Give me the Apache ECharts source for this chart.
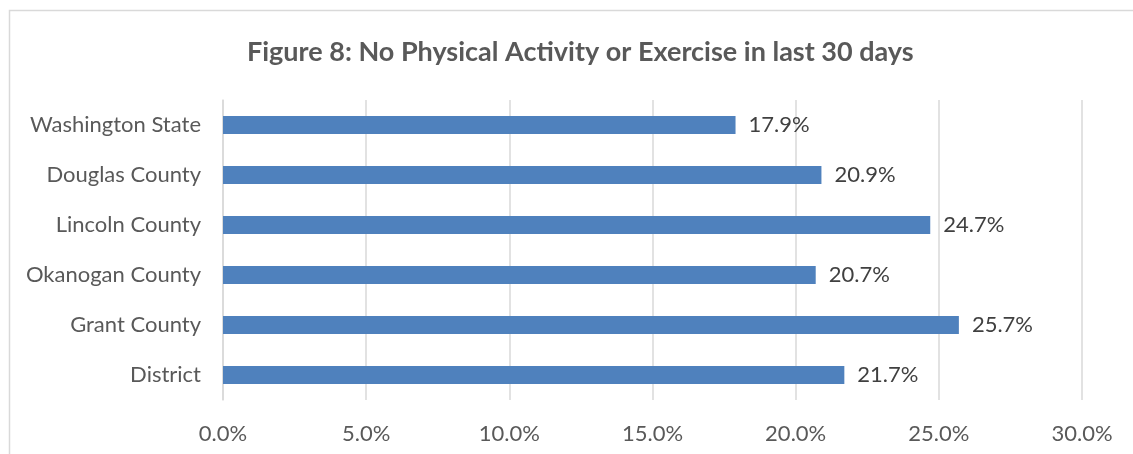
<!DOCTYPE html>
<html><head><meta charset="utf-8">
<script src="https://cdn.jsdelivr.net/npm/echarts@6/dist/echarts.min.js"></script>
<style>html,body{margin:0;padding:0;background:#fff}#c{width:1133px;height:454px}</style>
</head><body><div id="c"></div>
<script>
const categories = ["District", "Grant County", "Okanogan County", "Lincoln County", "Douglas County", "Washington State"];
const values = [21.7, 25.7, 20.7, 24.7, 20.9, 17.9];
const titleText = "Figure 8: No Physical Activity or Exercise in last 30 days";

const chart = echarts.init(document.getElementById('c'), null, {renderer: 'canvas'});
const font = "Lato, 'Open Sans', sans-serif";
chart.setOption({
  animation: false,
  backgroundColor: '#fff',
  title: {
    text: titleText, left: 242, top: 34,
    textStyle: {fontFamily: font, fontSize: 27, fontWeight: 'bold', color: '#595959'}
  },
  graphic: [{type: 'rect', shape: {x: 9.5, y: 10.5, width: 1130, height: 460}, style: {fill: null, stroke: '#d9d9d9', lineWidth: 1.5}, silent: true}],
  grid: {left: 223, right: 51, top: 100, bottom: 54, containLabel: false},
  xAxis: {
    type: 'value', min: 0, max: 30, interval: 5,
    axisLine: {show: false}, axisTick: {show: false},
    splitLine: {lineStyle: {color: '#d9d9d9', width: 1.5}},
    axisLabel: {formatter: v => v.toFixed(1) + '%', fontFamily: font, fontSize: 22, color: '#595959', margin: 23}
  },
  yAxis: {
    type: 'category', data: categories,
    axisLine: {show: true, lineStyle: {color: '#d9d9d9', width: 1.5}}, axisTick: {show: false},
    axisLabel: {fontFamily: font, fontSize: 22, color: '#595959', margin: 22}
  },
  series: [{
    type: 'bar', data: values, barWidth: 18,
    itemStyle: {color: '#4F81BD'},
    label: {show: true, position: 'right', distance: 13, formatter: p => p.value.toFixed(1) + '%', fontFamily: font, fontSize: 22, color: '#404040'}
  }]
});
</script></body></html>
